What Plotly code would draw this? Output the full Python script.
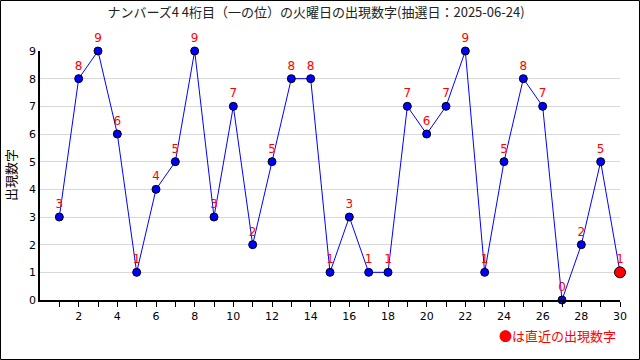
import plotly.graph_objects as go

draws = list(range(1, 31))
values = [3, 8, 9, 6, 1, 4, 5, 9, 3, 7, 2, 5, 8, 8, 1, 3, 1, 1, 7, 6, 7, 9, 1, 5, 8, 7, 0, 2, 5, 1]
x_tick_vals = list(range(2, 31, 2))
y_tick_vals = list(range(0, 10))

title_text = "ナンバーズ4 4桁目（一の位）の火曜日の出現数字(抽選日：2025-06-24)"
y_title = "出現数字"
legend_text = "●は直近の出現数字"

W, H = 640, 360
ML, MR, MT, MB = 40, 20, 51, 60
pw, ph = W - ML - MR, H - MT - MB

font_jp = "Noto Sans CJK JP, DejaVu Sans, sans-serif"

fig = go.Figure()
fig.add_trace(go.Scatter(
    x=draws, y=values, mode="lines+markers+text",
    line=dict(color="#0000ff", width=1),
    marker=dict(color="#0000ff", size=8, line=dict(color="black", width=1)),
    text=[str(v) for v in values], textposition="top center",
    textfont=dict(color="#ff0000", size=12, family="DejaVu Sans, sans-serif"),
    cliponaxis=False, hoverinfo="skip", showlegend=False,
))
fig.add_trace(go.Scatter(
    x=[draws[-1]], y=[values[-1]], mode="markers",
    marker=dict(color="#ff0000", size=11, line=dict(color="black", width=1)),
    cliponaxis=False, hoverinfo="skip", showlegend=False,
))

fig.update_layout(
    width=W, height=H,
    margin=dict(l=ML, r=MR, t=MT, b=MB, autoexpand=False),
    paper_bgcolor="white", plot_bgcolor="white",
    title=dict(text=title_text, x=316 / W, xanchor="center", y=1 - 12 / H, yanchor="middle",
               font=dict(family=font_jp, size=13, color="#222222")),
    xaxis=dict(range=[0, 30], tickvals=list(range(1, 31)),
               ticktext=[str(i) if i % 2 == 0 else "" for i in range(1, 31)],
               ticks="outside", ticklen=5, tickcolor="black",
               showline=True, linecolor="black", linewidth=1.5,
               showgrid=False, zeroline=False, automargin=False,
               tickfont=dict(family="DejaVu Sans, sans-serif", size=11, color="black")),
    yaxis=dict(range=[0, 9], tickvals=y_tick_vals, ticks="", showline=True,
               linecolor="black", linewidth=1.5, automargin=False,
               showgrid=True, gridcolor="#d8d8d8", gridwidth=1, zeroline=False,
               tickfont=dict(family="DejaVu Sans, sans-serif", size=11, color="black")),
    shapes=[dict(type="rect", xref="paper", yref="paper",
                 x0=(-ML + 0.5) / pw, x1=1 + (MR - 0.5) / pw,
                 y0=(-MB + 0.5) / ph, y1=1 + (MT - 0.5) / ph,
                 line=dict(color="black", width=1))],
    annotations=[
        dict(text=legend_text, xref="paper", yref="paper",
             x=1 + (MR - 22) / pw, y=-(335 - (H - MB)) / ph,
             xanchor="right", yanchor="middle", showarrow=False,
             font=dict(family=font_jp, size=13, color="#ff0000")),
        dict(text=y_title, xref="paper", yref="paper",
             x=-(ML - 10) / pw, y=(H - MB - 175) / ph, textangle=-90,
             xanchor="center", yanchor="middle", showarrow=False,
             font=dict(family=font_jp, size=13, color="black")),
    ],
)

fig.write_html("out.html", config={"displayModeBar": False},
               post_script="document.body.style.margin='0';document.body.style.overflow='hidden';")
